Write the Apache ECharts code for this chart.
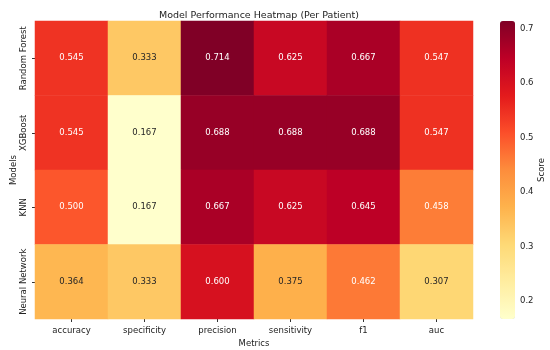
<!DOCTYPE html>
<html>
<head>
<meta charset="utf-8">
<script src="https://cdn.jsdelivr.net/npm/echarts@6/dist/echarts.min.js"></script>
<style>html,body{margin:0;padding:0;background:#fff}#c{width:550px;height:350px}</style>
</head>
<body>
<div id="c"></div>
<script>
var metrics = ['accuracy', 'specificity', 'precision', 'sensitivity', 'f1', 'auc'];
var models = ['Random Forest', 'XGBoost', 'KNN', 'Neural Network'];
var randomForest = [0.545, 0.333, 0.714, 0.625, 0.667, 0.547];
var xgboost = [0.545, 0.167, 0.688, 0.688, 0.688, 0.547];
var knn = [0.500, 0.167, 0.667, 0.625, 0.645, 0.458];
var neuralNetwork = [0.364, 0.333, 0.600, 0.375, 0.462, 0.307];
var colorbarTicks = [0.2, 0.3, 0.4, 0.5, 0.6, 0.7];

var rows = [randomForest, xgboost, knn, neuralNetwork];
var data = [];
rows.forEach(function (r, yi) {
  r.forEach(function (v, xi) {
    data.push({ value: [xi, yi, v], label: { color: v > 0.42 ? '#ffffff' : '#262626' } });
  });
});
var vmin = 0.167, vmax = 0.714;
var FONT = 'DejaVu Sans';
var chart = echarts.init(document.getElementById('c'));
chart.setOption({
  animation: false,
  textStyle: { fontFamily: FONT },
  title: {
    text: 'Model Performance Heatmap (Per Patient)',
    left: 254, top: 6, textAlign: 'center',
    textStyle: { fontFamily: FONT, fontSize: 9.5, fontWeight: 'normal', color: '#222' }
  },
  grid: [
    { left: 35, top: 21, width: 438, height: 298, containLabel: false, outerBoundsMode: 'none' },
    { left: 500, top: 21, width: 15, height: 298, containLabel: false, outerBoundsMode: 'none' }
  ],
  xAxis: [
    {
      type: 'category', data: metrics, gridIndex: 0,
      name: 'Metrics', nameLocation: 'middle', nameGap: 20, nameMoveOverlap: false,
      nameTextStyle: { fontFamily: FONT, fontSize: 8.5, color: '#222' },
      axisLine: { show: false },
      axisTick: { show: true, alignWithLabel: true, length: 3, lineStyle: { color: '#333' } },
      axisLabel: { fontFamily: FONT, fontSize: 8.5, color: '#222', margin: 7, interval: 0 },
      splitLine: { show: false }
    },
    { type: 'value', gridIndex: 1, show: false, min: 0, max: 1 }
  ],
  yAxis: [
    {
      type: 'category', data: models, gridIndex: 0, inverse: true,
      name: 'Models', nameLocation: 'middle', nameGap: 17, nameRotate: 90, nameMoveOverlap: false,
      nameTextStyle: { fontFamily: FONT, fontSize: 8.5, color: '#222' },
      axisLine: { show: false },
      axisTick: { show: true, alignWithLabel: true, length: 3, lineStyle: { color: '#333' } },
      axisLabel: { fontFamily: FONT, fontSize: 8.5, color: '#222', rotate: 90, margin: 7, interval: 0 },
      splitLine: { show: false }
    },
    {
      type: 'value', gridIndex: 1, position: 'right', min: vmin, max: vmax,
      name: 'Score', nameLocation: 'middle', nameGap: 22, nameRotate: 90, nameMoveOverlap: false,
      nameTextStyle: { fontFamily: FONT, fontSize: 8.5, color: '#222' },
      axisLine: { show: false },
      axisTick: { show: true, length: 3, lineStyle: { color: '#333' }, customValues: colorbarTicks },
      axisLabel: { fontFamily: FONT, fontSize: 8.5, color: '#222', margin: 5, customValues: colorbarTicks,
        formatter: function (v) { return v.toFixed(1); } },
      splitLine: { show: false }
    }
  ],
  visualMap: {
    type: 'continuous', min: vmin, max: vmax, seriesIndex: 0,
    show: true, calculable: false, orient: 'vertical',
    left: 500, top: 21, itemWidth: 15, itemHeight: 298, padding: 0,
    text: null, showLabel: false,
    inRange: { color: ['#ffffcc', '#ffeda0', '#fed976', '#feb24c', '#fd8d3c', '#fc4e2a', '#e31a1c', '#bd0026', '#800026'] }
  },
  series: [{
    type: 'heatmap', xAxisIndex: 0, yAxisIndex: 0, data: data,
    itemStyle: { borderWidth: 0 },
    label: {
      show: true, fontFamily: FONT, fontSize: 8.5,
      formatter: function (p) { return p.value[2].toFixed(3); }
    },
    emphasis: { disabled: true }
  }]
});
</script>
</body>
</html>
